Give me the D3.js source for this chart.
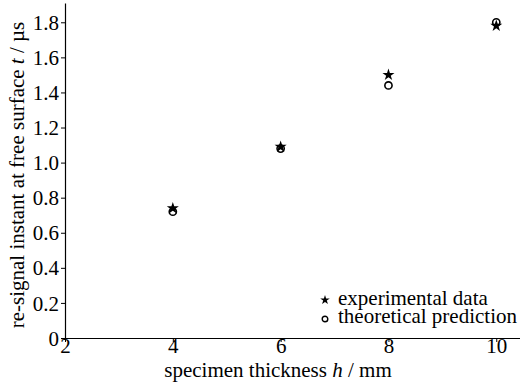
<!DOCTYPE html>
<html>
<head>
<meta charset="utf-8">
<script src="https://cdn.jsdelivr.net/npm/d3@7"></script>
<style>
  body { margin: 0; background: #fff; }
  svg text { font-family: 'Liberation Serif', 'Times New Roman', Times, serif; fill: #000; }
</style>
</head>
<body>
<svg id="chart" width="520" height="385"></svg>
<script>
const thickness = [4, 6, 8, 10];
const experimental = [0.74, 1.09, 1.50, 1.78];
const theoretical = [0.72, 1.08, 1.44, 1.80];
const xTicks = [2, 4, 6, 8, 10];
const yTicks = [0, 0.2, 0.4, 0.6, 0.8, 1.0, 1.2, 1.4, 1.6, 1.8];
const legendLabels = ['experimental data', 'theoretical prediction'];

const FONT = "'Liberation Serif', 'Times New Roman', Times, serif";
const FS = '21px';
const svg = d3.select('#chart').attr('font-family', FONT);
const margin = { left: 65, right: 0, top: 3, bottom: 47 };
const W = 520, H = 385;

const x = d3.scaleLinear().domain([2, 10.44]).range([margin.left, W - margin.right]);
const y = d3.scaleLinear().domain([0, 1.91]).range([H - margin.bottom, margin.top]);

const xAxis = svg.append('g')
  .attr('transform', `translate(0,${H - margin.bottom})`)
  .call(d3.axisBottom(x).tickValues(xTicks).tickFormat(d3.format('d')).tickSize(4).tickSizeOuter(0));
xAxis.attr('font-family', FONT);
xAxis.selectAll('text').style('font-size', FS).attr('dy', null).attr('y', 15);

const yAxis = svg.append('g')
  .attr('transform', `translate(${margin.left},0)`)
  .call(d3.axisLeft(y).tickValues(yTicks).tickFormat(d => d === 0 ? '0' : d3.format('.1f')(d)).tickSize(4).tickSizeOuter(0));
yAxis.attr('font-family', FONT);
yAxis.selectAll('text').style('font-size', FS).attr('x', -6).attr('dy', '0.34em');

svg.selectAll('.domain').attr('stroke', '#000').attr('stroke-width', 1.2);
svg.selectAll('.tick line').attr('stroke', '#000');

// axis titles
const xt = svg.append('text')
  .attr('x', 278).attr('y', 377)
  .attr('text-anchor', 'middle')
  .style('font-size', FS);
xt.append('tspan').text('specimen thickness ');
xt.append('tspan').style('font-style', 'italic').text('h');
xt.append('tspan').text(' / mm');

const yt = svg.append('text')
  .attr('transform', 'translate(24,175) rotate(-90)')
  .attr('text-anchor', 'middle')
  .style('font-size', FS);
yt.append('tspan').text('re-signal instant at free surface ');
yt.append('tspan').style('font-style', 'italic').text('t');
yt.append('tspan').text(' / \u00b5s');

const star = d3.symbol().type(d3.symbolStar);

// theoretical circles
svg.selectAll('.theo')
  .data(thickness)
  .join('circle')
  .attr('class', 'theo')
  .attr('cx', d => x(d))
  .attr('cy', (d, i) => y(theoretical[i]))
  .attr('r', 3.6)
  .attr('fill', 'none')
  .attr('stroke', '#000')
  .attr('stroke-width', 1.6);

// experimental stars
svg.selectAll('.exp')
  .data(thickness)
  .join('path')
  .attr('class', 'exp')
  .attr('transform', (d, i) => `translate(${x(d)},${y(experimental[i])})`)
  .attr('d', star.size(45)())
  .attr('fill', '#000');

// legend
const lg = svg.append('g').attr('transform', 'translate(325,0)');
lg.append('path')
  .attr('transform', 'translate(0,300)')
  .attr('d', star.size(28)())
  .attr('fill', '#000');
lg.append('circle')
  .attr('cx', 0).attr('cy', 319)
  .attr('r', 2.8)
  .attr('fill', 'none')
  .attr('stroke', '#000')
  .attr('stroke-width', 1.4);
lg.selectAll('.lgtext')
  .data(legendLabels)
  .join('text')
  .attr('class', 'lgtext')
  .attr('x', 13)
  .attr('y', (d, i) => 305 + i * 18)
  .style('font-size', FS)
  .text(d => d);
</script>
</body>
</html>
